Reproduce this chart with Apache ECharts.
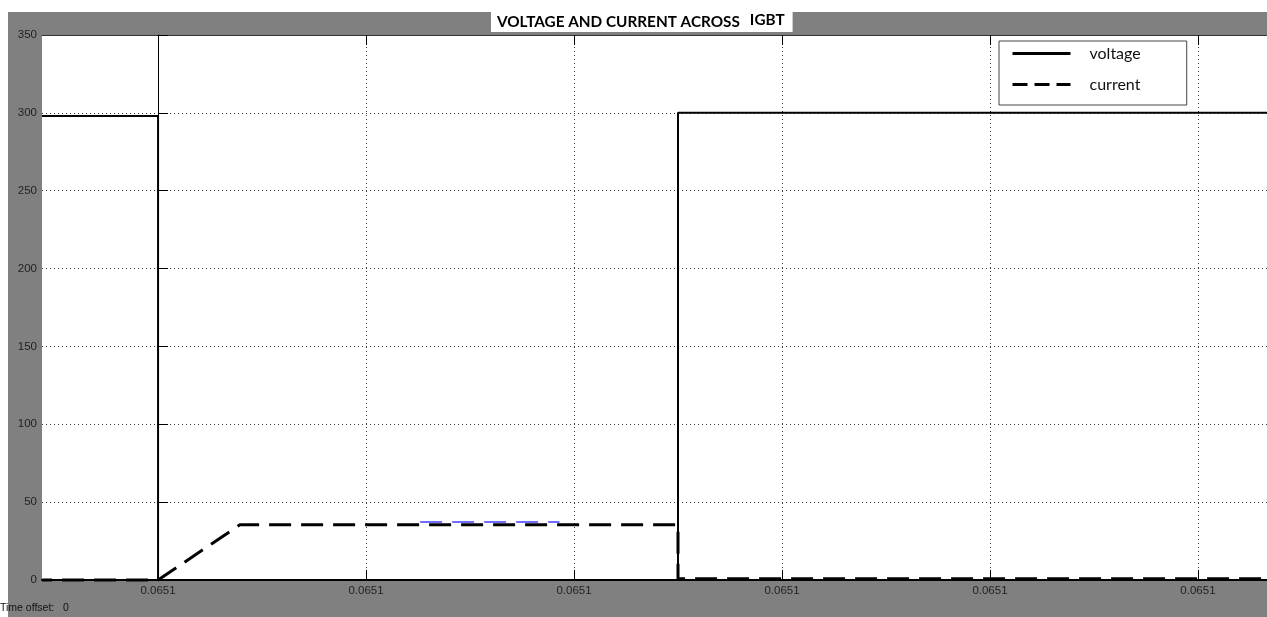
<!DOCTYPE html>
<html>
<head>
<meta charset="utf-8">
<title>Voltage and current across IGBT</title>
<script src="https://cdn.jsdelivr.net/npm/echarts@6/dist/echarts.min.js"></script>
<style>
  html, body { margin: 0; padding: 0; background: #ffffff; }
  #frame { position: absolute; left: 8px; top: 12px; width: 1259px; height: 605px; background: #808080; }
  #chart { position: absolute; left: 0; top: 0; width: 1267px; height: 617px; }
</style>
</head>
<body>
<div id="frame"></div>
<div id="chart"></div>
<script>
// Time axis: one unit per scope division, divisions all read 0.0651 s
const xTicks = [0, 1, 2, 3, 4, 5];
const xTickLabels = ['0.0651', '0.0651', '0.0651', '0.0651', '0.0651', '0.0651'];
const xMin = -0.558;
const xMax = 5.332;

const yTicks = [0, 50, 100, 150, 200, 250, 300, 350];

// Voltage across the IGBT (V): turn-on at t = 0, turn-off at t = 2.5
const voltageT = [xMin, 0, 0, 2.5, 2.5, xMax];
const voltageV = [298, 298, 0, 0, 300, 300];

// Collector current (A): ramps up after turn-on, drops at turn-off
const currentT = [xMin, 0, 0.394, 2.5, 2.5, xMax];
const currentV = [0, 0, 35.5, 35.5, 0.8, 0.8];

// Secondary trace showing just above the current plateau
const traceT = [1.26, 1.93];
const traceV = [37.2, 37.2];

const zip = (a, b) => a.map((v, i) => [v, b[i]]);

const chart = echarts.init(document.getElementById('chart'), null, { renderer: 'canvas' });

const dotted = { color: '#3a3a3a', width: 1, type: [1, 3] };
const labelFont = { fontFamily: 'Liberation Sans', fontSize: 11.5, color: '#222' };

chart.setOption({
  animation: false,
  backgroundColor: 'transparent',
  title: {
    text: '{a|VOLTAGE AND CURRENT ACROSS}  {b|IGBT}',
    left: 491,
    top: 12,
    padding: [1, 8, 1, 6],
    backgroundColor: '#ffffff',
    textStyle: {
      rich: {
        a: { fontFamily: 'Lato', fontSize: 15.3, color: '#000', lineHeight: 18 },
        b: { fontFamily: 'Lato', fontSize: 15.3, color: '#000', lineHeight: 18, padding: [0, 0, 3, 0] }
      }
    }
  },
  legend: {
    show: true,
    orient: 'vertical',
    left: 999,
    top: 41,
    backgroundColor: '#ffffff',
    borderColor: '#444',
    borderWidth: 1,
    borderRadius: 0,
    padding: [4, 46, 12, 12],
    itemWidth: 58,
    itemHeight: 14,
    itemGap: 14,
    textStyle: { fontFamily: 'Lato', fontSize: 16, color: '#111', lineHeight: 17, padding: [0, 0, 0, 14] },
    itemStyle: { opacity: 0 },
    lineStyle: { width: 3 },
    data: [
      { name: 'voltage', lineStyle: { width: 3, type: 'solid' } },
      { name: 'current', lineStyle: { width: 3, type: [15, 7], dashOffset: 0 } }
    ]
  },
  grid: {
    left: 42,
    top: 35,
    right: 0,
    bottom: 37,
    show: true,
    backgroundColor: '#ffffff',
    borderWidth: 0
  },
  xAxis: [
    {
      type: 'value',
      position: 'bottom',
      min: xMin,
      max: xMax,
      axisLine: { show: true, onZero: false, lineStyle: { color: '#000', width: 2 } },
      axisTick: { show: true, inside: true, length: 10, customValues: xTicks, lineStyle: { color: '#000' } },
      axisLabel: {
        show: true,
        customValues: xTicks,
        margin: 5,
        ...labelFont,
        formatter: (v) => xTickLabels[xTicks.indexOf(Math.round(v))] || ''
      },
      splitLine: { show: true, lineStyle: dotted }
    },
    {
      type: 'value',
      position: 'top',
      min: xMin,
      max: xMax,
      axisLine: { show: true, onZero: false, lineStyle: { color: '#333', width: 1 } },
      axisTick: { show: true, inside: true, length: 10, customValues: xTicks, lineStyle: { color: '#000' } },
      axisLabel: { show: false },
      splitLine: { show: false }
    }
  ],
  yAxis: {
    type: 'value',
    min: 0,
    max: 350,
    interval: 50,
    axisLine: { show: true, lineStyle: { color: '#000', width: 1 } },
    axisTick: { show: true, inside: true, length: 10, lineStyle: { color: '#000' } },
    axisLabel: {
      margin: 5,
      ...labelFont,
      formatter: (v) => (yTicks.indexOf(v) >= 0 ? String(v) : '')
    },
    splitLine: { show: true, lineStyle: dotted }
  },
  graphic: [
    {
      type: 'text',
      left: 0,
      top: 603,
      style: { text: 'Time offset:   0', fontFamily: 'Liberation Sans', fontSize: 10.5, fill: '#111' }
    }
  ],
  series: [
    {
      name: 'trace',
      type: 'line',
      data: zip(traceT, traceV),
      showSymbol: false,
      symbol: 'none',
      lineStyle: { color: '#6f6fff', width: 2, type: [22, 10] },
      z: 2,
      silent: true
    },
    {
      name: 'current',
      type: 'line',
      data: zip(currentT, currentV),
      showSymbol: false,
      symbol: 'none',
      clip: false,
      itemStyle: { color: '#000' },
      lineStyle: { color: '#000', width: 3, type: [22, 10], dashOffset: 12 },
      z: 3
    },
    {
      name: 'voltage',
      type: 'line',
      data: zip(voltageT, voltageV),
      showSymbol: false,
      symbol: 'none',
      clip: false,
      itemStyle: { color: '#000' },
      lineStyle: { color: '#000', width: 2 },
      z: 4
    }
  ]
});
</script>
</body>
</html>
